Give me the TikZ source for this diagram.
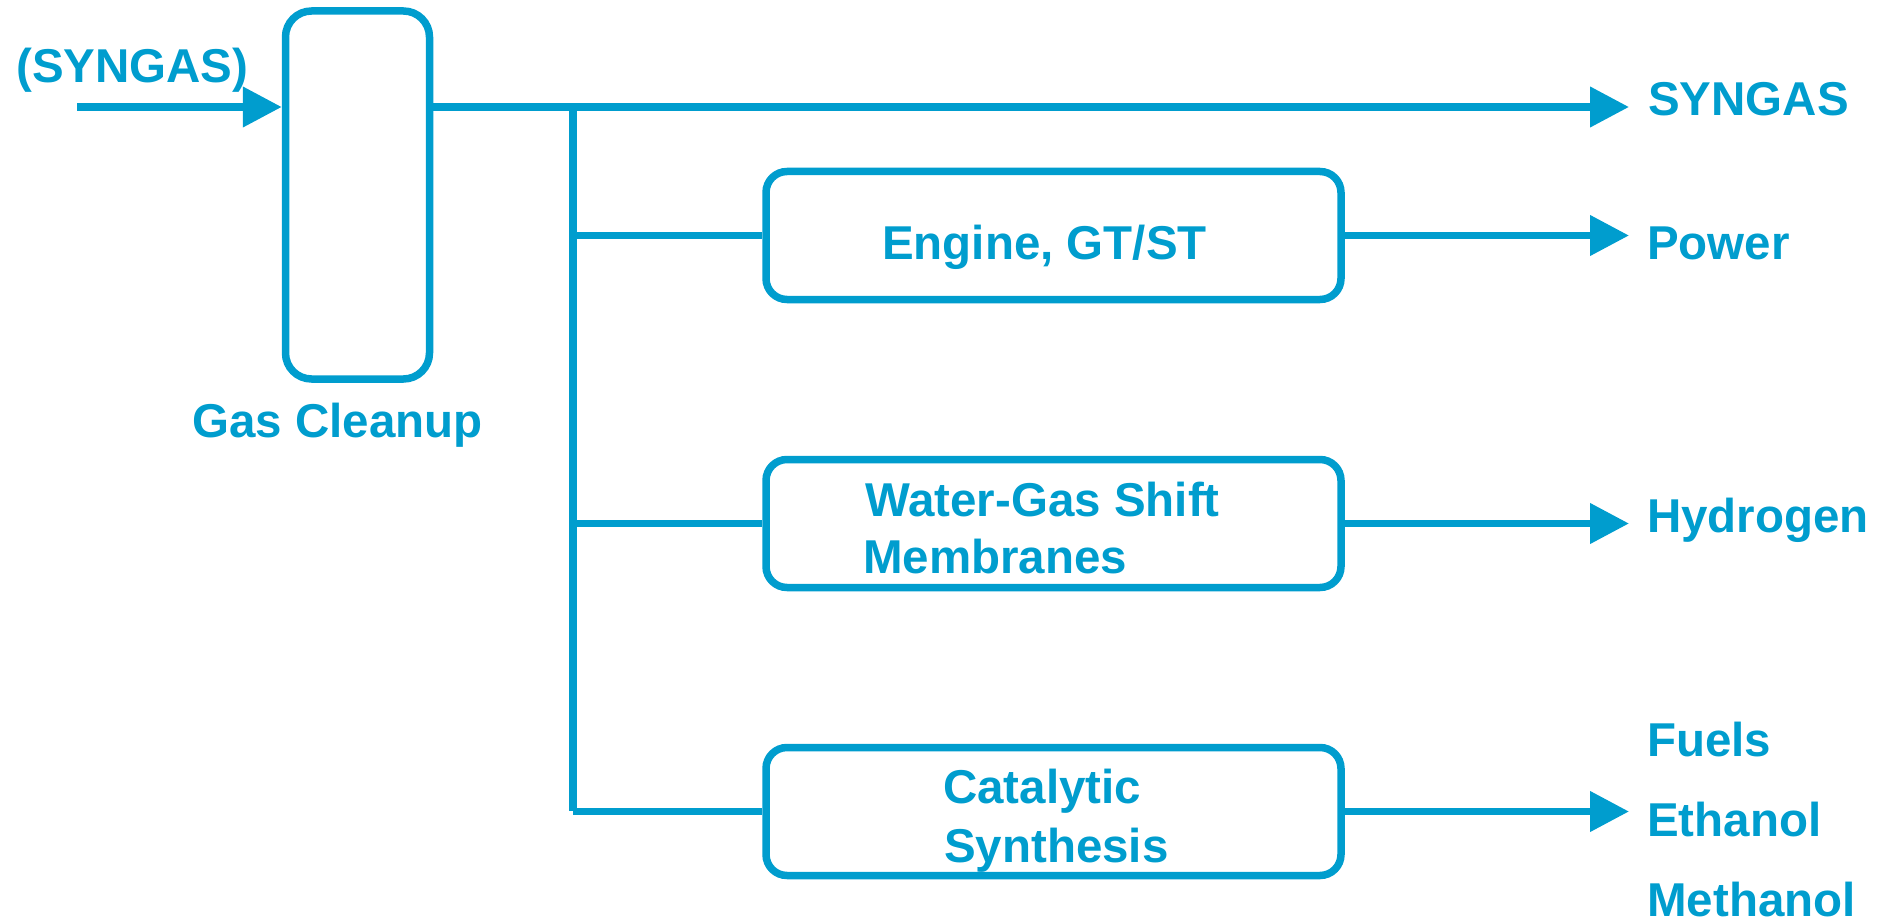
\documentclass[tikz,border=0pt]{standalone}
\usepackage{fontspec}
\setmainfont{Liberation Sans}
\usetikzlibrary{arrows.meta}
\definecolor{flowblue}{RGB}{0,157,206}
\begin{document}
\begin{tikzpicture}[x=1pt,y=-1pt,
  wire/.style={draw=flowblue,line width=7.5pt},
  flowarrow/.style={wire,-{Triangle[length=39pt,width=39pt]}},
  unitbox/.style={draw=flowblue,line width=7.5pt,rounded corners=21pt,inner sep=0pt,minimum width=575pt,minimum height=128pt},
  lbl/.style={text=flowblue,font=\fontsize{47.5}{57}\selectfont\bfseries,inner sep=0pt,anchor=base west}]
\useasboundingbox (0,0) rectangle (1888,920);
% boxes
\node[unitbox,rounded corners=26pt,minimum width=144pt,minimum height=368pt] (gc) at (357.5,195) {};
\node[unitbox] (eng) at (1053.5,235.5) {};
\node[unitbox] (wgs) at (1053.5,523.5) {};
\node[unitbox] (cat) at (1053.5,811.5) {};
% coordinates
\coordinate (src) at (77,107);
\coordinate (j0) at (573,107);
\coordinate (jb) at (573,811);
\coordinate (t0) at (1629,107);
% connectors
\draw[flowarrow] (src) -- (src -| gc.west);
\draw[flowarrow] (gc.east |- j0) -- (t0);
\draw[wire] (j0) -- (jb);
\draw[wire] (j0 |- eng.west) -- (eng.west);
\draw[wire] (j0 |- wgs.west) -- (wgs.west);
\draw[wire] (j0 |- cat.west) -- (cat.west);
\draw[flowarrow] (eng.east) -- (eng.east -| t0);
\draw[flowarrow] (wgs.east) -- (wgs.east -| t0);
\draw[flowarrow] (cat.east) -- (cat.east -| t0);
% labels
\node[lbl] (lin) at (16,83) {(SYNGAS)};
\node[lbl] (lgc) at (192,437) {Gas Cleanup};
\node[lbl] (lsyn) at (1648,116) {SYNGAS};
\node[lbl] (lpow) at (1647,260) {Power};
\node[lbl] (lhyd) at (1647,532) {Hydrogen};
\node[lbl] (lfue) at (1647,756) {Fuels};
\node[lbl] (leth) at (1647,836) {Ethanol};
\node[lbl] (lmet) at (1647,916) {Methanol};
\node[lbl] (teng) at (882,260) {Engine, GT/ST};
\node[lbl] (twgs1) at (865,516) {Water-Gas Shift};
\node[lbl] (twgs2) at (863,573) {Membranes};
\node[lbl] (tcat1) at (943,803) {Catalytic};
\node[lbl] (tcat2) at (944,862) {Synthesis};
\end{tikzpicture}
\end{document}
